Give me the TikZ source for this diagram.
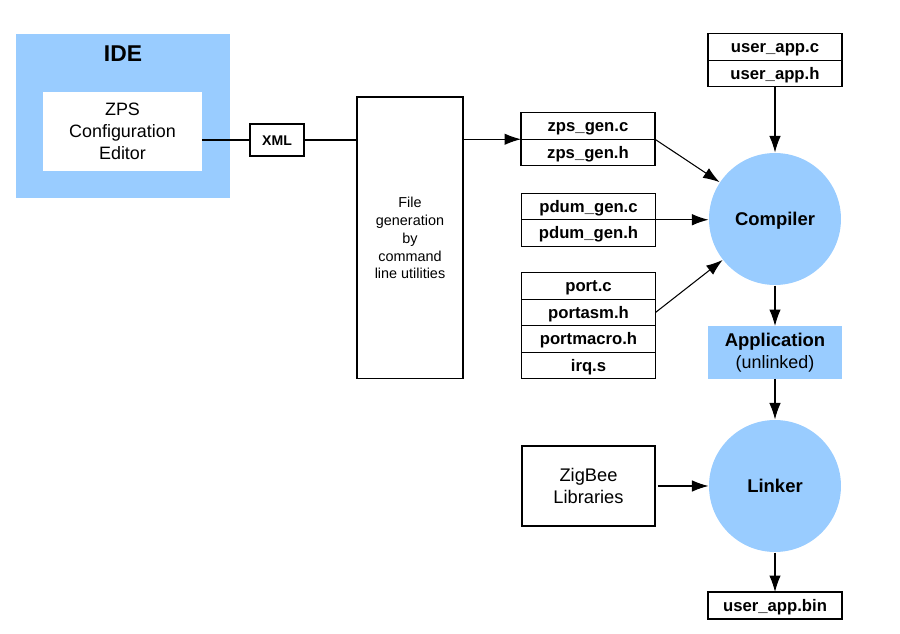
\documentclass[tikz,border=0pt]{standalone}
\usepackage{fontspec}
\setmainfont{Liberation Sans}
\usetikzlibrary{positioning,calc,arrows.meta}
\definecolor{toolblue}{HTML}{99CCFF}

\begin{document}
\begin{tikzpicture}[x=0.02cm,y=-0.02cm,line width=0.6pt,
        >={Latex[length=3.3mm,width=2.3mm]},
        every node/.style={font=\fontsize{9.5}{11}\selectfont\bfseries},
        file/.style={draw,rectangle,minimum width=2.68cm,minimum height=0.53cm,inner sep=0pt,outer sep=0pt,node distance=0pt,text height=6.8pt,text depth=0pt},
        tool/.style={circle,fill=toolblue,minimum size=2.64cm,inner sep=0pt,text height=7.5pt,text depth=0pt,font=\fontsize{10.5}{12}\selectfont\bfseries},
        plain/.style={align=center,inner sep=0pt,outer sep=0pt,font=\fontsize{10.2}{12.5}\selectfont}]
   \useasboundingbox (0,0) rectangle (900,634);

   % IDE
   \node (IDE) [fill=toolblue,minimum width=4.28cm,minimum height=3.28cm,inner sep=0pt] at (123,116) {};
   \node (IDEt) [font=\fontsize{13}{15}\selectfont\bfseries] at (123,54) {IDE};
   \node (ZPS) [plain,fill=white,minimum width=3.18cm,minimum height=1.58cm] at (122.5,131.5) {ZPS\\Configuration\\Editor};

   \node (XML) [draw,minimum width=1.08cm,minimum height=0.64cm,inner sep=0pt,text height=5.7pt,text depth=0pt,font=\fontsize{8}{9}\selectfont\bfseries] at (277,140) {XML};
   \node (GEN) [draw,plain,minimum width=2.12cm,minimum height=5.64cm,font=\fontsize{8.2}{10.2}\selectfont] at (410,238) {File\\generation\\by\\command\\line utilities};

   % generated and user files
   \node (ZC) [file] at (588,126) {zps\_gen.c};
   \node (ZH) [file,below=of ZC] {zps\_gen.h};
   \node (PC) [file] at (588.5,206.5) {pdum\_gen.c};
   \node (PH) [file,below=of PC] {pdum\_gen.h};
   \node (P1) [file] at (588.5,286) {port.c};
   \node (P2) [file,below=of P1] {portasm.h};
   \node (P3) [file,below=of P2] {portmacro.h};
   \node (P4) [file,below=of P3] {irq.s};
   \node (UC) [file] at (775,47) {user\_app.c};
   \node (UH) [file,below=of UC] {user\_app.h};

   % build
   \node (CMP) [tool] at (775,219) {Compiler};
   \node (APP) [plain,fill=toolblue,minimum width=2.68cm,minimum height=1.06cm] at (775,352.5) {\bfseries\fontsize{10.5}{12.5}\selectfont Application\\(unlinked)};
   \node (LNK) [tool] at (775,486) {Linker};
   \node (ZIG) [draw,plain,minimum width=2.66cm,minimum height=1.6cm,font=\fontsize{10.4}{12.5}\selectfont] at (588.5,486) {ZigBee\\Libraries};
   \node (BIN) [file,minimum height=0.54cm] at (775,605.5) {user\_app.bin};

   \draw (ZPS.east |- XML) -- (XML);
   \draw (XML) -- (XML -| GEN.west);
   \draw[->] (GEN.east |- ZC.south) -- (ZC.south west);
   \draw[->] (ZC.south east) -- (CMP);
   \draw[->] (PC.south east) -- (PC.south east -| CMP.west);
   \draw[->] (P2.east) -- (CMP);
   \draw[->] (UH) -- (CMP);
   \draw[->] (CMP) -- (APP);
   \draw[->] (APP) -- (LNK);
   \draw[->,shorten <=0.06cm] (ZIG) -- (LNK);
   \draw[->] (LNK) -- (BIN);
\end{tikzpicture}
\end{document}
